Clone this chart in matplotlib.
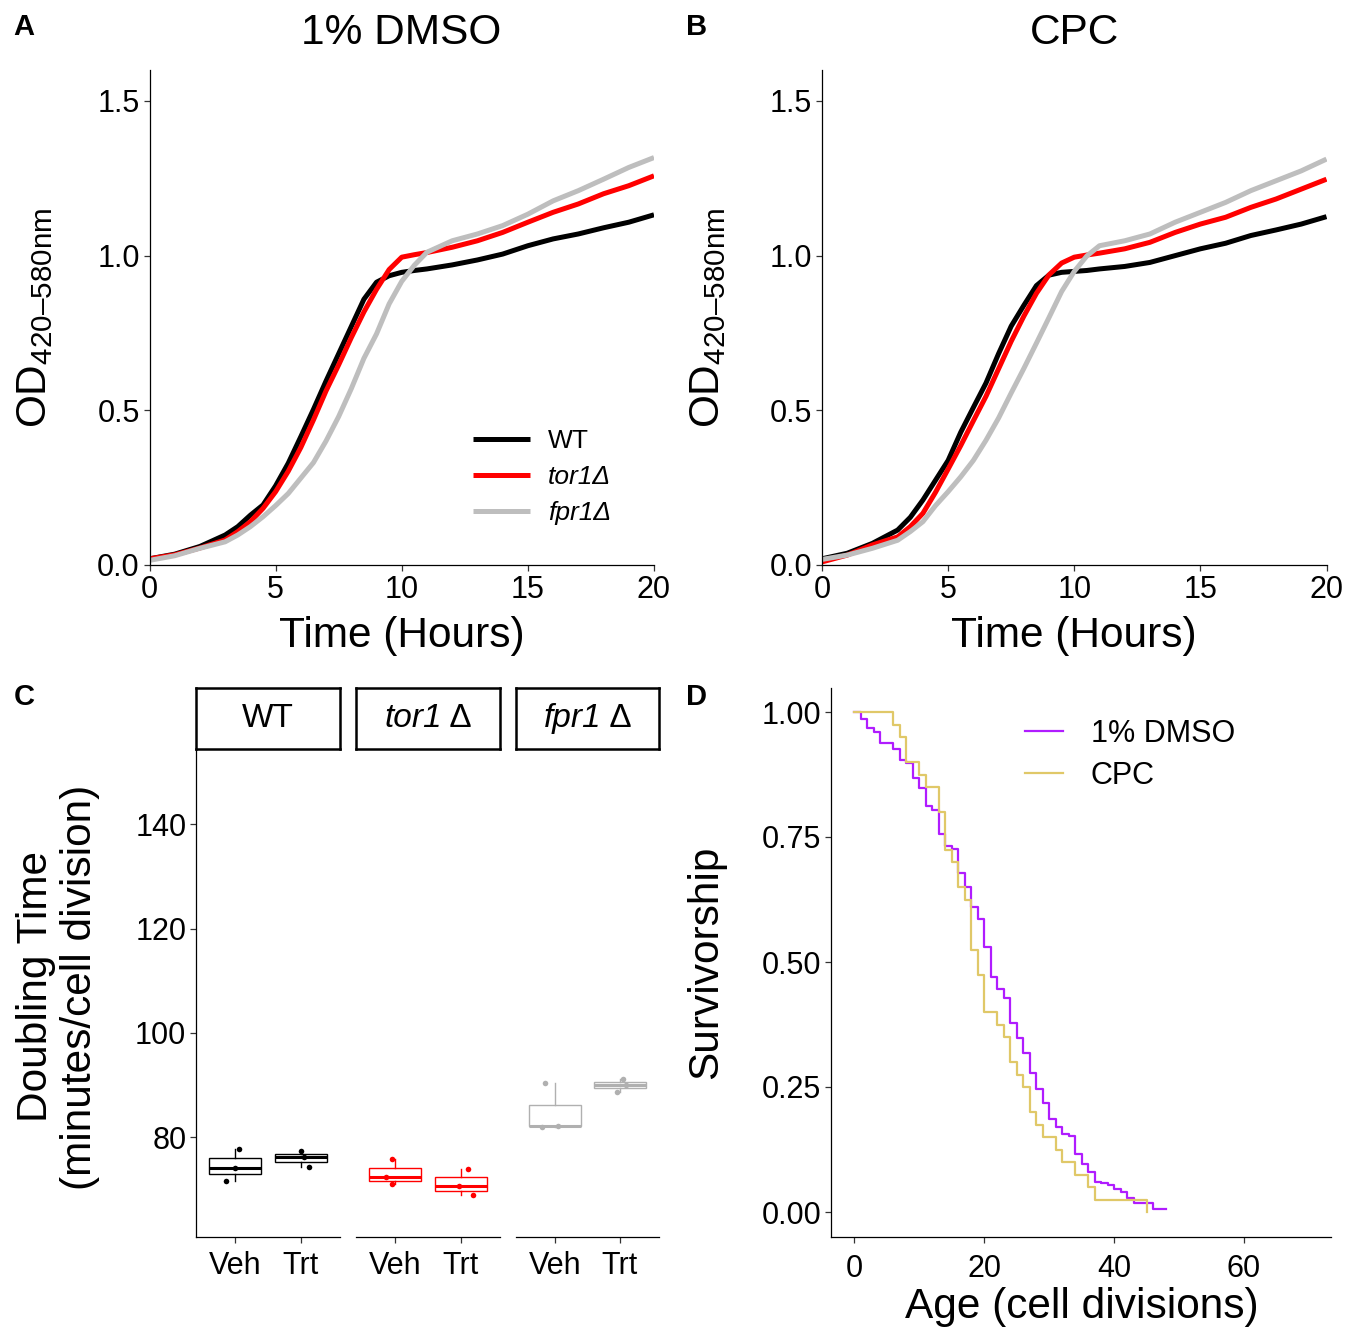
import matplotlib
matplotlib.use("Agg")
import matplotlib.pyplot as plt
from matplotlib.lines import Line2D
from matplotlib.offsetbox import AnchoredOffsetbox, HPacker, TextArea
import numpy as np

plt.rcParams["font.family"] = ["Liberation Sans", "DejaVu Sans"]
plt.rcParams["mathtext.fontset"] = "custom"
plt.rcParams["mathtext.rm"] = "Liberation Sans"
plt.rcParams["mathtext.it"] = "Liberation Sans:italic"
plt.rcParams["mathtext.bf"] = "Liberation Sans:bold"

# ---- data -------------------------------------------------------------
hours = [0, 1, 2, 3, 3.5, 4, 4.5, 5, 5.5, 6, 6.5, 7, 7.5, 8, 8.5, 9, 9.5, 10, 10.5,
         11, 12, 13, 14, 15, 16, 17, 18, 19, 20]

# 1% DMSO growth curves
wt_dmso = [0.020, 0.035, 0.060, 0.097, 0.124, 0.161, 0.194, 0.256, 0.329, 0.415,
           0.503, 0.595, 0.683, 0.771, 0.859, 0.914, 0.935, 0.946, 0.952, 0.957,
           0.970, 0.986, 1.005, 1.032, 1.054, 1.070, 1.090, 1.108, 1.132]
tor1_dmso = [0.020, 0.033, 0.055, 0.081, 0.108, 0.140, 0.183, 0.237, 0.303, 0.380,
             0.469, 0.563, 0.647, 0.735, 0.818, 0.891, 0.955, 0.995, 1.003, 1.010,
             1.027, 1.048, 1.075, 1.108, 1.140, 1.167, 1.200, 1.226, 1.258]
fpr1_dmso = [0.015, 0.030, 0.054, 0.075, 0.097, 0.124, 0.156, 0.192, 0.231, 0.281,
             0.331, 0.401, 0.480, 0.570, 0.668, 0.747, 0.844, 0.917, 0.969, 1.011,
             1.048, 1.070, 1.097, 1.134, 1.177, 1.210, 1.247, 1.285, 1.317]

# CPC growth curves
wt_cpc = [0.020, 0.038, 0.070, 0.113, 0.154, 0.210, 0.274, 0.338, 0.429, 0.509,
          0.588, 0.683, 0.772, 0.839, 0.903, 0.937, 0.946, 0.949, 0.952, 0.957,
          0.965, 0.978, 1.000, 1.022, 1.040, 1.065, 1.083, 1.102, 1.126]
tor1_cpc = [0.010, 0.032, 0.065, 0.091, 0.124, 0.167, 0.235, 0.310, 0.386, 0.466,
            0.545, 0.634, 0.723, 0.804, 0.878, 0.938, 0.976, 0.995, 1.002, 1.008,
            1.022, 1.043, 1.075, 1.102, 1.124, 1.156, 1.183, 1.215, 1.247]
fpr1_cpc = [0.018, 0.032, 0.054, 0.080, 0.108, 0.140, 0.192, 0.237, 0.285, 0.338,
            0.403, 0.475, 0.556, 0.635, 0.717, 0.800, 0.884, 0.949, 0.999, 1.032,
            1.048, 1.070, 1.108, 1.140, 1.172, 1.210, 1.242, 1.274, 1.312]

# doubling times (minutes / cell division), three replicates per group
strains = ["WT", "tor1", "fpr1"]
treatments = ["Veh", "Trt"]
doubling = {
    "WT": ([77.7, 74.2, 71.6], [77.3, 76.2, 74.4]),
    "tor1": ([75.9, 72.3, 71.05], [74.0, 70.7, 68.9]),
    "fpr1": ([90.35, 81.98, 82.17], [91.1, 90.1, 88.6]),
}
jitter = {
    "WT": ([0.06, 0.0, -0.14], [0.0, 0.05, 0.13]),
    "tor1": ([-0.05, -0.14, -0.05], [0.11, -0.03, 0.19]),
    "fpr1": ([-0.16, -0.20, 0.05], [0.05, 0.09, -0.04]),
}

# replicative lifespan (Kaplan-Meier steps)
dmso_age = [0, 1, 2, 3, 4, 6, 7, 8, 9, 10, 11, 12, 13, 14, 15, 16, 17, 18, 19, 20,
            21, 22, 23, 24, 25, 26, 27, 28, 29, 30, 31, 32, 33, 34, 35, 36, 37, 38,
            39, 40, 41, 42, 43, 46, 48]
dmso_surv = [1.0, 0.986, 0.969, 0.961, 0.939, 0.926, 0.904, 0.899, 0.869, 0.848,
             0.813, 0.804, 0.757, 0.733, 0.726, 0.678, 0.651, 0.611, 0.586, 0.531,
             0.471, 0.446, 0.429, 0.379, 0.349, 0.319, 0.279, 0.247, 0.218, 0.187,
             0.171, 0.156, 0.153, 0.117, 0.096, 0.081, 0.061, 0.058, 0.054, 0.047,
             0.041, 0.028, 0.018, 0.006, 0.006]
cpc_age = [0, 6, 7, 8, 10, 11, 13, 14, 15, 16, 17, 18, 19, 20, 22, 23, 24, 25, 26,
           27, 28, 29, 31, 32, 34, 36, 37, 45]
cpc_surv = [1.0, 0.975, 0.95, 0.9, 0.875, 0.85, 0.8, 0.725, 0.7, 0.65, 0.625, 0.525,
            0.475, 0.4, 0.375, 0.35, 0.3, 0.275, 0.25, 0.2, 0.175, 0.15, 0.125, 0.1,
            0.075, 0.05, 0.025, 0.0]

# ---- styling -----------------------------------------------------------
W, H = 1348, 1330
STRAIN_COLORS = {"WT": "black", "tor1": "#FF0000", "fpr1": "#BEBEBE"}
BOX_COLORS = {"WT": "black", "tor1": "#FF0000", "fpr1": "#B0B0B0"}
STRAIN_NAMES = {"WT": "WT", "tor1": "tor1", "fpr1": "fpr1"}
TICK_SIZE = 22
TITLE_SIZE = 30.5

fig = plt.figure(figsize=(W / 100, H / 100), dpi=100)


def add_axes(left, top, right, bottom):
    return fig.add_axes([left / W, 1 - bottom / H, (right - left) / W, (bottom - top) / H])


def classic(axis, left=True):
    for side in ("top", "right"):
        axis.spines[side].set_visible(False)
    for side in ("left", "bottom"):
        axis.spines[side].set_linewidth(0.9)
        axis.spines[side].set_color("black")
    if not left:
        axis.spines["left"].set_visible(False)
        axis.tick_params(axis="y", left=False, labelleft=False)
    axis.tick_params(length=4, width=0.9, color="#333333", labelsize=TICK_SIZE,
                     labelcolor="black", pad=3)


def fig_text(x, y, s, **kw):
    fig.text(x / W, 1 - y / H, s, ha=kw.pop("ha", "center"), va=kw.pop("va", "center"), **kw)


# ---- panels A and B: growth curves -------------------------------------
growth = [
    ("1% DMSO", 149.5, {"WT": wt_dmso, "tor1": tor1_dmso, "fpr1": fpr1_dmso}),
    ("CPC", 822.0, {"WT": wt_cpc, "tor1": tor1_cpc, "fpr1": fpr1_cpc}),
]
for idx, (title, left, curves) in enumerate(growth):
    axis = add_axes(left, 70, left + 504.5, 565)
    for strain in strains:
        axis.plot(hours, curves[strain], color=STRAIN_COLORS[strain], lw=3.6,
                  solid_capstyle="butt", solid_joinstyle="round")
    axis.set_xlim(0, 20)
    axis.set_ylim(0, 1.6)
    axis.set_xticks([0, 5, 10, 15, 20])
    axis.set_yticks([0, 0.5, 1.0, 1.5])
    axis.set_yticklabels(["0.0", "0.5", "1.0", "1.5"])
    classic(axis)
    center = left + 252
    fig_text(center, 33, title, fontsize=TITLE_SIZE)
    fig_text(center, 636, "Time (Hours)", fontsize=TITLE_SIZE)
    fig_text(left - 114, 318, r"OD$_{\mathrm{420–580nm}}$", fontsize=TITLE_SIZE, rotation=90)
    if idx == 0:
        handles = [Line2D([], [], color=STRAIN_COLORS[s], lw=3.6, solid_capstyle="butt")
                   for s in strains]
        labels = [STRAIN_NAMES[s] + ("" if s == "WT" else "Δ") for s in strains]
        leg = axis.legend(handles, labels, loc="center left",
                          bbox_to_anchor=(473 / W, 1 - 477 / H), bbox_transform=fig.transFigure,
                          frameon=False, fontsize=19, handlelength=2.15, handletextpad=0.7,
                          labelspacing=0.45, borderpad=0, borderaxespad=0)
        for text, strain in zip(leg.get_texts(), strains):
            if strain != "WT":
                text.set_fontstyle("italic")

fig_text(24, 27, "A", fontsize=21, fontweight="bold")
fig_text(697, 27, "B", fontsize=21, fontweight="bold")

# ---- panel C: doubling time box plots ----------------------------------
facet_x = {"WT": (196, 340), "tor1": (356, 500), "fpr1": (516, 659)}
for i, strain in enumerate(strains):
    x0, x1 = facet_x[strain]
    axis = add_axes(x0, 750, x1, 1237)
    color = BOX_COLORS[strain]
    axis.boxplot(list(doubling[strain]), positions=[1, 2], widths=0.8, patch_artist=True,
                 showfliers=False, showcaps=False, whis=1.5,
                 boxprops=dict(facecolor="white", edgecolor=color, linewidth=1.0),
                 whiskerprops=dict(color=color, linewidth=1.0),
                 medianprops=dict(color=color, linewidth=2.2))
    for pos, vals, jit in zip([1, 2], doubling[strain], jitter[strain]):
        axis.scatter(pos + np.array(jit), vals, s=16, color=color, zorder=3, linewidths=0)
    axis.set_xlim(0.4, 2.6)
    axis.set_ylim(60.9, 154.2)
    axis.set_xticks([1, 2])
    axis.set_xticklabels(treatments)
    axis.set_yticks([80, 100, 120, 140])
    classic(axis, left=(i == 0))
    axis.tick_params(axis="x", pad=6)

    strip = add_axes(x0, 688, x1, 749)
    strip.set_xticks([])
    strip.set_yticks([])
    for sp in strip.spines.values():
        sp.set_linewidth(1.8)
        sp.set_color("black")
    if strain == "WT":
        parts = [TextArea("WT", textprops=dict(fontsize=24))]
    else:
        parts = [TextArea(STRAIN_NAMES[strain], textprops=dict(fontsize=24, fontstyle="italic")),
                 TextArea(" Δ", textprops=dict(fontsize=24))]
    packed = HPacker(children=parts, align="baseline", pad=0, sep=0)
    strip.add_artist(AnchoredOffsetbox(loc="center", child=packed, frameon=False,
                                       pad=0, borderpad=0))

fig_text(58, 987, "Doubling Time\n(minutes/cell division)", fontsize=TITLE_SIZE,
         rotation=90, linespacing=1.1)
fig_text(24, 697, "C", fontsize=21, fontweight="bold")

# ---- panel D: survivorship ---------------------------------------------
axis = add_axes(831, 688, 1331, 1237)
axis.step(dmso_age, dmso_surv, where="post", color="#B01CFF", lw=1.6, label="1% DMSO")
axis.step(cpc_age, cpc_surv, where="post", color="#E0C868", lw=1.6, label="CPC")
axis.set_xlim(-3.59, 73.4)
axis.set_ylim(-0.05, 1.048)
axis.set_xticks([0, 20, 40, 60])
axis.set_yticks([0, 0.25, 0.5, 0.75, 1.0])
axis.set_yticklabels(["0.00", "0.25", "0.50", "0.75", "1.00"])
classic(axis)
axis.tick_params(axis="x", pad=8)
axis.legend(loc="center left", bbox_to_anchor=(1025 / W, 1 - 755 / H),
            bbox_transform=fig.transFigure, frameon=False, fontsize=22,
            handlelength=1.25, handletextpad=0.9, labelspacing=0.4,
            borderpad=0, borderaxespad=0)
fig_text(1082, 1307, "Age (cell divisions)", fontsize=TITLE_SIZE)
fig_text(706, 962, "Survivorship", fontsize=TITLE_SIZE, rotation=90)
fig_text(697, 697, "D", fontsize=21, fontweight="bold")

fig.savefig("out.png", dpi=100, facecolor="white")
